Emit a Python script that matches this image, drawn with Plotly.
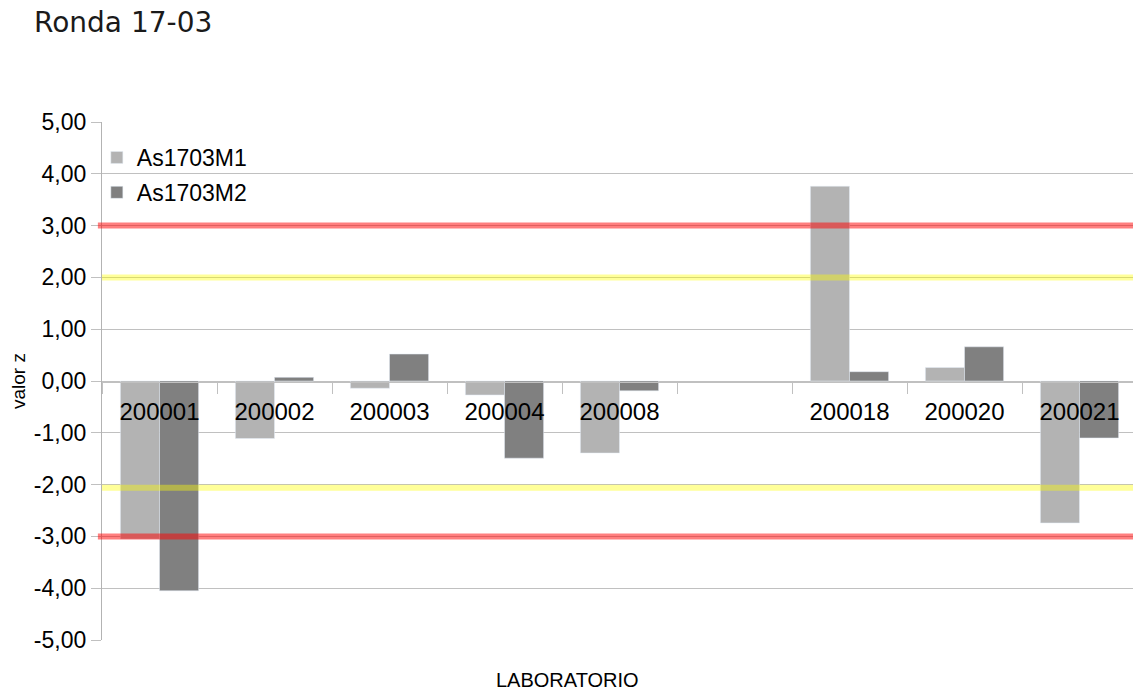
import plotly.graph_objects as go

categories = ["200001", "200002", "200003", "200004", "200008", " ", "200018", "200020", "200021"]
m1_values = [-3.05, -1.11, -0.14, -0.27, -1.39, None, 3.76, 0.26, -2.74]
m2_values = [-4.05, 0.07, 0.52, -1.49, -0.19, None, 0.18, 0.66, -1.10]
series_names = ["As1703M1", "As1703M2"]
y_ticks = [-5, -4, -3, -2, -1, 0, 1, 2, 3, 4, 5]
y_tick_labels = ["-5,00", "-4,00", "-3,00", "-2,00", "-1,00", "0,00",
                 "1,00", "2,00", "3,00", "4,00", "5,00"]
red_limits = [3.0, -3.0]
yellow_limits = [2.0, -2.06]

W, H = 1133, 692
L, R, T, B = 102, 0, 122, 52

fig = go.Figure()
fig.add_trace(go.Bar(x=categories, y=m1_values, name=series_names[0], marker_color="#b3b3b3",
                     legendgroup="a"))
fig.add_trace(go.Bar(x=categories, y=m2_values, name=series_names[1], marker_color="#808080",
                     legendgroup="b"))

for v in red_limits:
    fig.add_shape(type="line", xref="paper", yref="y", x0=-0.004, x1=1, y0=v, y1=v,
                  line=dict(color="rgba(255,0,0,0.5)", width=6), layer="above")
for v in yellow_limits:
    fig.add_shape(type="line", xref="paper", yref="y", x0=0, x1=1, y0=v, y1=v,
                  line=dict(color="rgba(255,255,0,0.4)", width=6), layer="above")

font_main = "Liberation Sans, Arial, sans-serif"
fig.update_layout(
    width=W, height=H,
    margin=dict(l=L, r=R, t=T, b=B),
    paper_bgcolor="white", plot_bgcolor="white",
    barmode="group", bargap=0.32, bargroupgap=0,
    font=dict(family=font_main, color="black"),
    showlegend=True,
    legend=dict(x=-0.005, y=0.973, xanchor="left", yanchor="top",
                font=dict(size=23, family=font_main), bgcolor="rgba(0,0,0,0)",
                itemwidth=30, tracegroupgap=2, traceorder="grouped"),
    title=dict(text="Ronda 17-03", x=34 / W, xanchor="left", xref="container",
               y=1 - 22 / H, yanchor="middle", yref="container",
               font=dict(size=28, family="DejaVu Sans, Open Sans, sans-serif", color="#1a1a1a")),
)

fig.update_yaxes(range=[-5, 5], tickvals=y_ticks, ticktext=y_tick_labels,
                 showgrid=True, gridcolor="#c0c0c0", gridwidth=1.3,
                 showline=True, linecolor="#b3b3b3", linewidth=1.3,
                 ticks="outside", ticklen=10, tickcolor="#c0c0c0",
                 tickfont=dict(size=23, family=font_main), zeroline=False)

plot_w = W - L - R
n_visible = plot_w / 115.0
fig.update_xaxes(type="category", range=[-0.5, -0.5 + n_visible],
                 anchor="free", position=(640 - 381.7) / 518,
                 showline=True, linecolor="#c0c0c0", linewidth=1.3,
                 ticks="outside", ticklen=11, tickcolor="#c0c0c0", tickson="boundaries",
                 showgrid=False, tickfont=dict(size=24, family=font_main),
                 ticklabelstandoff=8)

fig.add_annotation(text="valor z", xref="paper", yref="paper",
                   x=(18 - L) / plot_w, y=(640 - 381) / 518, textangle=-90,
                   xanchor="center", yanchor="middle",
                   showarrow=False, font=dict(size=19, family=font_main))
fig.add_annotation(text="LABORATORIO", xref="paper", yref="paper",
                   x=(567 - L) / plot_w, y=-(680 - 640) / 518,
                   xanchor="center", yanchor="middle",
                   showarrow=False, font=dict(size=20, family=font_main))

fig.write_html("out.html", config={"displayModeBar": False},
               post_script="document.body.style.margin='0';document.body.style.overflow='hidden';")
